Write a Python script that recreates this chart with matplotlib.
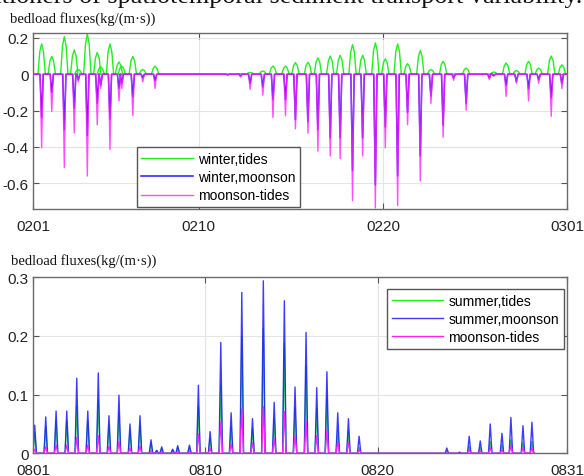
import numpy as np
import matplotlib
matplotlib.use("Agg")
import matplotlib.pyplot as plt

plt.rcParams['axes.unicode_minus'] = False
plt.rcParams['font.family'] = ['Liberation Sans', 'DejaVu Sans']

# ---------------- data: winter (Feb) ----------------
win_xticks = [0, 9, 19, 29]
win_xlabels = ["0201", "0210", "0220", "0301"]
win_yticks = [-0.6, -0.4, -0.2, 0, 0.2]
win_ylabels = ["-0.6", "-0.4", "-0.2", "0", "0.2"]

win_days = [0.47, 1.02, 1.70, 2.24, 2.46, 2.95, 3.49, 3.68, 4.18, 4.67, 4.82,
            5.42, 5.96, 6.63, 10.57, 11.27, 11.79, 12.48, 13.03, 13.71, 14.25,
            14.93, 15.47, 16.14, 16.68, 17.35, 17.90, 18.59, 19.13, 19.80,
            20.34, 21.03, 21.61, 22.27, 22.84, 23.52, 24.78, 25.02, 25.69,
            26.25, 26.91, 27.46, 28.14, 28.72]
win_tides = [0.167, 0.098, 0.207, 0.134, 0.026, 0.222, 0.120, 0.040, 0.167,
             0.067, 0.044, 0.098, 0.026, 0.044, 0.0, 0.003, 0.010, 0.018,
             0.045, 0.045, 0.064, 0.066, 0.090, 0.100, 0.104, 0.163, 0.104,
             0.173, 0.085, 0.167, 0.058, 0.131, 0.026, 0.071, 0.0, 0.034,
             0.0, 0.012, 0.062, 0.020, 0.071, 0.034, 0.100, 0.052]
win_monsoon = [-0.24, -0.10, -0.305, -0.187, -0.03, -0.338, -0.16, -0.06,
               -0.247, -0.078, -0.05, -0.124, -0.02, -0.035, -0.003, -0.01,
               -0.05, -0.07, -0.14, -0.14, -0.25, -0.26, -0.305, -0.35, -0.35,
               -0.53, -0.35, -0.61, -0.29, -0.56, -0.21, -0.45, -0.12, -0.28,
               -0.02, -0.16, -0.02, -0.008, -0.06, -0.04, -0.08, -0.03, -0.13,
               -0.05]
win_diff = [-0.405, -0.205, -0.514, -0.323, -0.042, -0.56, -0.278, -0.078,
            -0.414, -0.147, -0.078, -0.227, -0.042, -0.078, -0.005, -0.015,
            -0.083, -0.115, -0.238, -0.229, -0.30, -0.325, -0.423, -0.45,
            -0.465, -0.696, -0.45, -0.736, -0.405, -0.723, -0.278, -0.587,
            -0.16, -0.347, -0.033, -0.198, -0.03, -0.01, -0.122, -0.05,
            -0.147, -0.05, -0.232, -0.078]

# ---------------- data: summer (Aug) ----------------
sum_xticks = [0, 10, 20, 31]
sum_xlabels = ["0801", "0810", "0820", "0831"]
sum_yticks = [0, 0.1, 0.2, 0.3]
sum_ylabels = ["0", "0.1", "0.2", "0.3"]

sum_days = [0.10, 0.74, 1.34, 1.96, 2.54, 3.18, 3.79, 4.41, 4.99, 5.63, 6.21,
            6.85, 7.18, 7.47, 8.11, 8.40, 9.08, 9.60, 10.28, 10.90, 11.50,
            12.12, 12.74, 13.37, 14.00, 14.59, 15.21, 15.85, 16.47, 17.06,
            17.69, 18.31, 18.93, 24.02, 24.76, 25.32, 25.96, 26.54, 27.22,
            27.74, 28.44, 28.96]
sum_monsoon = [0.048, 0.062, 0.072, 0.072, 0.128, 0.072, 0.137, 0.064, 0.099,
               0.050, 0.064, 0.023, 0.005, 0.011, 0.007, 0.013, 0.014, 0.116,
               0.037, 0.189, 0.069, 0.274, 0.059, 0.294, 0.087, 0.260, 0.113,
               0.206, 0.112, 0.139, 0.069, 0.059, 0.029, 0.009, 0.002, 0.029,
               0.021, 0.050, 0.034, 0.061, 0.047, 0.053]
sum_tides = [0.035, 0.045, 0.055, 0.055, 0.080, 0.055, 0.090, 0.048, 0.070,
             0.038, 0.048, 0.018, 0.004, 0.008, 0.005, 0.010, 0.010, 0.080,
             0.025, 0.116, 0.045, 0.199, 0.042, 0.213, 0.059, 0.187, 0.078,
             0.149, 0.076, 0.099, 0.039, 0.037, 0.010, 0.004, 0.001, 0.012,
             0.010, 0.020, 0.015, 0.023, 0.018, 0.020]
sum_diff = [0.007, 0.011, 0.014, 0.014, 0.027, 0.014, 0.030, 0.012, 0.020,
            0.009, 0.012, 0.004, 0.001, 0.002, 0.001, 0.003, 0.003, 0.033,
            0.008, 0.053, 0.016, 0.076, 0.018, 0.080, 0.025, 0.071, 0.031,
            0.056, 0.030, 0.039, 0.020, 0.019, 0.007, 0.001, 0.0, 0.006,
            0.004, 0.010, 0.006, 0.013, 0.009, 0.009]


def spikes(days, vals, hw, start, end):
    xs, ys = [start], [0.0]
    for d, v in zip(days, vals):
        xs += [d - hw, d - hw * 0.5, d, d + hw * 0.5, d + hw]
        ys += [0.0, v * 0.75, v, v * 0.75, 0.0]
    xs.append(end)
    ys.append(0.0)
    return np.array(xs), np.array(ys)


def needles(days, vals, hw, start, end):
    xs, ys = [start], [0.0]
    for d, v in zip(days, vals):
        xs += [d - hw, d, d + hw]
        ys += [0.0, v, 0.0]
    xs.append(end)
    ys.append(0.0)
    return np.array(xs), np.array(ys)


GREEN = '#22ee22'
BLUE = '#1a1aff'
MAG = '#ff22ff'

fig = plt.figure(figsize=(5.84, 4.77), dpi=100)
ax1 = fig.add_axes([0.0565, 0.5597, 0.9145, 0.369])
ax2 = fig.add_axes([0.0565, 0.0476, 0.9145, 0.369])


def style(ax):
    for s in ax.spines.values():
        s.set_color('#6b6b6b')
        s.set_linewidth(1.0)
    ax.tick_params(direction='in', top=True, right=True, length=4, width=0.8,
                   color='#555555', labelsize=11, labelcolor='#222222')
    ax.tick_params(axis='x', pad=7)
    ax.tick_params(axis='y', pad=3)
    ax.grid(True, color='#e4e4e4', linewidth=0.8)
    ax.set_axisbelow(True)


# top panel
x, y = spikes(win_days, win_tides, 0.2, 0, 29)
ax1.plot(x, y, color=GREEN, lw=1.0, label='winter,tides')
x, y = needles(win_days, win_monsoon, 0.09, 0, 29)
ax1.plot(x, y, color=BLUE, lw=1.1, label='winter,moonson')
x, y = needles(win_days, win_diff, 0.08, 0, 29)
ax1.plot(x, y, color=MAG, lw=1.0, alpha=0.8, label='moonson-tides')
ax1.set_xlim(0, 29)
ax1.set_ylim(-0.742, 0.227)
ax1.set_xticks(win_xticks)
ax1.set_xticklabels(win_xlabels)
ax1.set_yticks(win_yticks)
ax1.set_yticklabels(win_ylabels)
style(ax1)
leg1 = ax1.legend(loc='lower left', bbox_to_anchor=(0.194, 0.01), fontsize=10,
                  handlelength=3.7, labelspacing=0.3, borderpad=0.35,
                  handletextpad=0.35, fancybox=False, framealpha=1,
                  edgecolor='#555555', borderaxespad=0)
leg1.get_frame().set_linewidth(1.0)

# bottom panel
x, y = needles(sum_days, sum_tides, 0.1, 0, 29.1)
ax2.plot(x, y, color=GREEN, lw=1.0, label='summer,tides')
x, y = needles(sum_days, sum_monsoon, 0.1, 0, 29.1)
ax2.plot(x, y, color=BLUE, lw=1.0, alpha=0.85, label='summer,moonson')
x, y = needles(sum_days, sum_diff, 0.1, 0, 29.1)
ax2.plot(x, y, color=MAG, lw=1.0, label='moonson-tides')
ax2.set_xlim(0, 31)
ax2.set_ylim(0, 0.3)
ax2.set_xticks(sum_xticks)
ax2.set_xticklabels(sum_xlabels)
ax2.set_yticks(sum_yticks)
ax2.set_yticklabels(sum_ylabels)
style(ax2)
leg2 = ax2.legend(loc='upper left', bbox_to_anchor=(0.663, 0.934), fontsize=10,
                  handlelength=3.7, labelspacing=0.3, borderpad=0.35,
                  handletextpad=0.35, fancybox=False, framealpha=1,
                  edgecolor='#555555', borderaxespad=0)
leg2.get_frame().set_linewidth(1.0)

# texts
fig.text(10 / 584, 1 - 19 / 477, 'bedload fluxes(kg/(m\u00b7s))', family='Liberation Serif',
         fontsize=10.5, va='center', ha='left', color='#111111')
fig.text(11 / 584, 1 - 261 / 477, 'bedload fluxes(kg/(m\u00b7s))', family='Liberation Serif',
         fontsize=10.5, va='center', ha='left', color='#111111')
fig.text(582 / 584, 1 - 3 / 477, 'titioners of spatiotemporal sediment transport variability.',
         family='Liberation Serif', fontsize=18.8, va='baseline', ha='right', color='#111111')

fig.savefig('out.png', dpi=100)
